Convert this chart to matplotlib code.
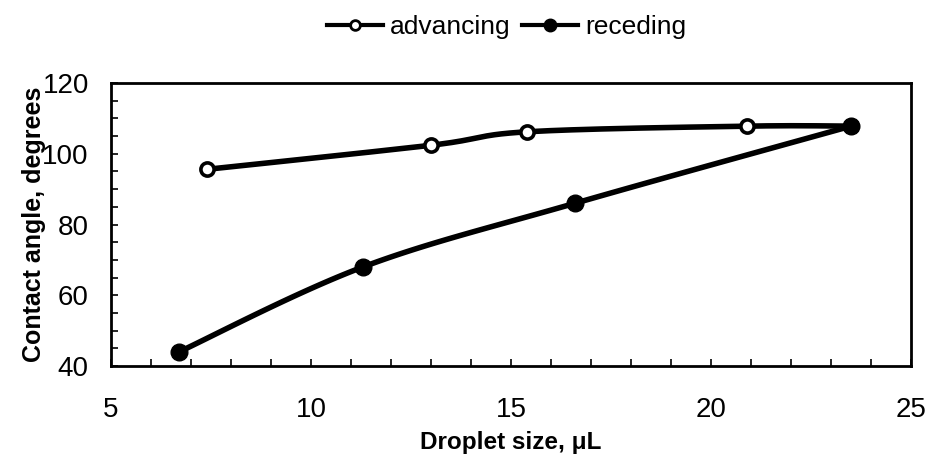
import numpy as np
import matplotlib
matplotlib.use("Agg")
import matplotlib.pyplot as plt
from matplotlib.lines import Line2D
from matplotlib.ticker import MultipleLocator

plt.rcParams['font.family'] = ['Liberation Sans', 'DejaVu Sans']

# Measured contact angles vs droplet volume
adv_size = [7.4, 13.0, 15.4, 20.9, 23.5]
adv_angle = [95.6, 102.4, 106.2, 107.8, 107.8]
rec_size = [6.7, 11.3, 16.6, 23.5]
rec_angle = [44.0, 68.0, 86.0, 107.8]

x_ticks = [5, 10, 15, 20, 25]
y_ticks = [40, 60, 80, 100, 120]


def smooth(xs, ys, n=40):
    """Cubic Bezier smoothing through the points (Catmull-Rom style)."""
    x = np.asarray(xs, float)
    y = np.asarray(ys, float)
    px = np.concatenate([[x[0]], x, [x[-1]]])
    py = np.concatenate([[y[0]], y, [y[-1]]])
    outx, outy = [], []
    t = np.linspace(0, 1, n)
    for i in range(1, len(px) - 2):
        p0 = np.array([px[i], py[i]])
        p3 = np.array([px[i + 1], py[i + 1]])
        c1 = p0 + (np.array([px[i + 1], py[i + 1]]) - np.array([px[i - 1], py[i - 1]])) / 6
        c2 = p3 - (np.array([px[i + 2], py[i + 2]]) - np.array([px[i], py[i]])) / 6
        b = ((1 - t) ** 3)[:, None] * p0 + (3 * (1 - t) ** 2 * t)[:, None] * c1 \
            + (3 * (1 - t) * t ** 2)[:, None] * c2 + (t ** 3)[:, None] * p3
        outx.extend(b[:, 0])
        outy.extend(b[:, 1])
    return outx, outy


fig = plt.figure(figsize=(9.28, 4.61), dpi=100)
ax = fig.add_axes([0.1196, 0.206, 0.862, 0.614])

lw = 4.0
sx, sy = smooth(adv_size, adv_angle)
ax.plot(sx, sy, color='black', lw=lw, solid_capstyle='round', zorder=2)
ax.plot(adv_size, adv_angle, 'o', ms=9.5, mfc='white', mec='black', mew=2.6, zorder=3)

sx, sy = smooth(rec_size, rec_angle)
ax.plot(sx, sy, color='black', lw=lw, solid_capstyle='round', zorder=2)
ax.plot(rec_size, rec_angle, 'o', ms=12, mfc='black', mec='black', zorder=4)

ax.set_xlim(5, 25)
ax.set_ylim(40, 120)
ax.set_xticks(x_ticks)
ax.set_yticks(y_ticks)
ax.xaxis.set_minor_locator(MultipleLocator(1))
ax.yaxis.set_minor_locator(MultipleLocator(5))
ax.tick_params(which='both', direction='in', length=5, width=1.2, labelsize=20)
ax.tick_params(axis='x', which='both', top=False, pad=22)
ax.tick_params(axis='y', which='both', right=False, pad=16)
for s in ax.spines.values():
    s.set_linewidth(2)

ax.set_xlabel('Droplet size, \u03bcL', fontsize=17.5, fontweight='bold', labelpad=6)
ax.set_ylabel('Contact angle, degrees', fontsize=18, fontweight='bold', labelpad=-3)

handles = [
    Line2D([], [], color='black', lw=3, marker='o', ms=7, mfc='white', mec='black', mew=2),
    Line2D([], [], color='black', lw=3, marker='o', ms=9, mfc='black', mec='black'),
]
fig.legend(handles, ['advancing', 'receding'], loc='center', bbox_to_anchor=(0.546, 0.942),
           ncol=2, frameon=False, fontsize=19, handlelength=2.1, handletextpad=0.27,
           columnspacing=0.45)

fig.savefig('out.png', dpi=100)
